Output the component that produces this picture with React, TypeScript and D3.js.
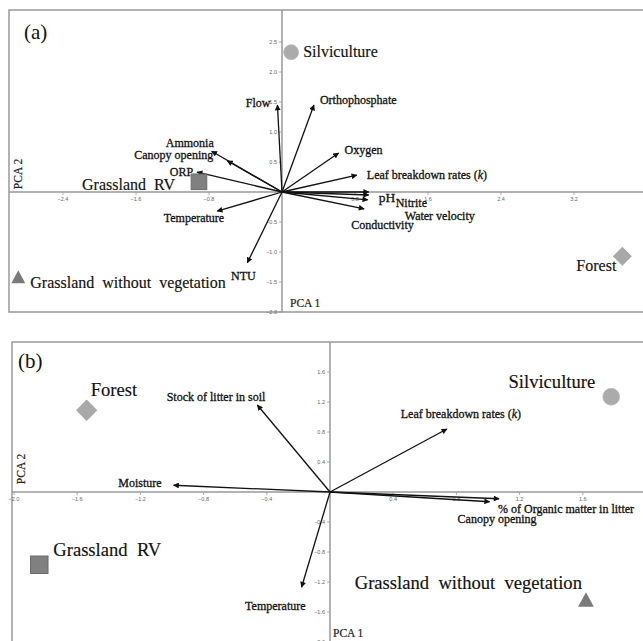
import React from 'react';
import * as d3 from 'd3';

// ---- panel (a) data ----
const groupsA = ['Silviculture', 'Grassland RV', 'Grassland without vegetation', 'Forest'];
const groupXA = [0.1, -0.91, -2.89, 3.73];
const groupYA = [2.33, 0.17, -1.42, -1.07];

const varsA = ['Flow', 'Orthophosphate', 'Oxygen', 'Leaf breakdown rates', 'pH', 'Nitrite', 'Water velocity', 'Conductivity', 'Ammonia', 'Canopy opening', 'ORP', 'Temperature', 'NTU'];
const varXA = [-0.05, 0.35, 0.62, 0.82, 0.95, 0.95, 0.94, 0.9, -0.77, -0.6, -0.93, -0.71, -0.38];
const varYA = [1.45, 1.45, 0.65, 0.28, 0.0, -0.05, -0.13, -0.28, 0.68, 0.52, 0.33, -0.32, -1.18];

const xTicksA = [-2.4, -1.6, -0.8, 0.8, 1.6, 2.4, 3.2, 4];
const yTicksA = [2.5, 2.0, 1.5, 1.0, 0.5, -0.5, -1.0, -1.5, -2.0];

// ---- panel (b) data ----
const groupsB = ['Forest', 'Silviculture', 'Grassland RV', 'Grassland without vegetation'];
const groupXB = [-1.54, 1.78, -1.84, 1.62];
const groupYB = [1.09, 1.27, -0.97, -1.44];

const varsB = ['Stock of litter in soil', 'Leaf breakdown rates', 'Moisture', 'Temperature', '% of Organic matter in litter', 'Canopy opening'];
const varXB = [-0.46, 0.74, -0.99, -0.18, 1.07, 1.01];
const varYB = [1.16, 0.84, 0.09, -1.27, -0.09, -0.13];

const xTicksB = [-2.0, -1.6, -1.2, -0.8, -0.4, 0.4, 0.8, 1.2, 1.6];
const yTicksB = [1.6, 1.2, 0.8, 0.4, -0.4, -0.8, -1.2, -1.6, -2.0];

// label layout (offsets from arrow tip / marker), kept apart from the data
const varLabA = [
  { dx: -7, dy: 2, a: 'end' }, { dx: 6, dy: -1, a: 'start' }, { dx: 6, dy: 1, a: 'start' },
  { dx: 10, dy: 4, a: 'start' }, { dx: 10, dy: 10, a: 'start' }, { dx: 27, dy: 12, a: 'start' },
  { dx: 37, dy: 20, a: 'start' }, { dx: -13, dy: 20, a: 'start' }, { dx: 2, dy: -4, a: 'end' },
  { dx: -14, dy: -2, a: 'end' }, { dx: -4, dy: 4, a: 'end' }, { dx: 7, dy: 11, a: 'end' },
  { dx: -4, dy: 17, a: 'middle' },
];
const groupLabA = [
  { dx: 12, dy: 5, a: 'start' }, { dx: -24, dy: 8, a: 'end' },
  { dx: 12, dy: 11, a: 'start' }, { dx: -6, dy: 15, a: 'end' },
];
const varLabB = [
  { dx: 8, dy: -4, a: 'end' }, { dx: 14, dy: -11, a: 'middle' }, { dx: -12, dy: 2, a: 'end' },
  { dx: 4, dy: 23, a: 'end' }, { dx: -1, dy: 14, a: 'start' }, { dx: -32, dy: 21, a: 'start' },
];
const groupLabB = [
  { dx: 4, dy: -14, a: 'start' }, { dx: -16, dy: -9, a: 'end' },
  { dx: 14, dy: -9, a: 'start' }, { dx: -4, dy: -11, a: 'end' },
];

const SERIF = '"Liberation Serif", "Times New Roman", serif';
const SANS = '"Liberation Sans", Arial, sans-serif';
const AXIS = '#999';

function Marker({ name, cx, cy, big }) {
  const s = big ? 1.12 : 1;
  if (name === 'Silviculture') {
    return <circle cx={cx} cy={cy} r={7.5 * s} fill="#ababab" stroke="#bbb" strokeWidth={0.8} />;
  }
  if (name === 'Forest') {
    const r = 9.5 * s;
    return <path d={`M${cx},${cy - r}L${cx + r},${cy}L${cx},${cy + r}L${cx - r},${cy}Z`} fill="#a9a9a9" />;
  }
  if (name === 'Grassland RV') {
    const h = 7.8 * s;
    return <rect x={cx - h} y={cy - h} width={2 * h} height={2 * h} fill="#808080" stroke="#6a6a6a" strokeWidth={1} />;
  }
  const t = 7 * s;
  return <path d={`M${cx},${cy - t}L${cx + t},${cy + t * 0.85}L${cx - t},${cy + t * 0.85}Z`} fill="#7a7a7a" />;
}

function VarLabel({ text, x, y, a }) {
  const common = { textAnchor: a, fontFamily: SERIF, fill: '#111', stroke: '#111', strokeWidth: 0.3 };
  if (text === 'Leaf breakdown rates') {
    return (
      <text x={x} y={y} {...common} fontSize={12}>
        Leaf breakdown rates (<tspan fontStyle="italic">k</tspan>)
      </text>
    );
  }
  return (
    <text x={x} y={y} {...common} fontSize={text === 'pH' ? 13.5 : 12}>
      {text}
    </text>
  );
}

function Panel({ id, x, y, frame, xTicks, yTicks, tickFmt, groups, gx, gy, gLab, vars, vx, vy, vLab, big, letter, letterPos, pca2Y, pca1Pos }) {
  const ox = x(0);
  const oy = y(0);
  return (
    <g>
      <defs>
        <marker id={`arr${id}`} viewBox="0 0 10 10" refX="9" refY="5" markerWidth="5" markerHeight="4.5" orient="auto" markerUnits="strokeWidth">
          <path d="M0,0L10,5L0,10Z" fill="#111" />
        </marker>
      </defs>
      {/* frame: left, top, bottom */}
      <path d={`M643,${frame.top}H${frame.left}V${frame.bottom}H643`} fill="none" stroke={AXIS} strokeWidth={1.5} />
      {/* axes */}
      <line x1={frame.left} x2={643} y1={oy} y2={oy} stroke={AXIS} strokeWidth={1.5} />
      <line x1={ox} x2={ox} y1={frame.top} y2={frame.bottom} stroke={AXIS} strokeWidth={1.5} />
      {xTicks.map(t => (
        <g key={`xt${t}`}>
          <line x1={x(t)} x2={x(t)} y1={oy} y2={oy + 3} stroke={AXIS} strokeWidth={0.8} />
          <text x={x(t)} y={oy + 9} textAnchor="middle" fontFamily={SANS} fontSize={5.5} fill="#666">{tickFmt(t)}</text>
        </g>
      ))}
      {yTicks.map(t => (
        <g key={`yt${t}`}>
          <line x1={ox - 3} x2={ox} y1={y(t)} y2={y(t)} stroke={AXIS} strokeWidth={0.8} />
          <text x={ox - 5} y={y(t) + 2} textAnchor="end" fontFamily={SANS} fontSize={5.5} fill="#666">{tickFmt(t)}</text>
        </g>
      ))}
      {/* axis titles */}
      <text transform={`translate(${frame.left + 13},${pca2Y}) rotate(-90)`} textAnchor="middle" fontFamily={SERIF} fontSize={11.5} fill="#222" stroke="#222" strokeWidth={0.2}>PCA 2</text>
      <text x={pca1Pos[0]} y={pca1Pos[1]} fontFamily={SERIF} fontSize={11.5} fill="#222" stroke="#222" strokeWidth={0.2}>PCA 1</text>
      <text x={letterPos[0]} y={letterPos[1]} fontFamily={SERIF} fontSize={21} fill="#111">{letter}</text>
      {/* loading vectors */}
      {vars.map((v, i) => (
        <line key={`v${v}`} x1={ox} y1={oy} x2={x(vx[i])} y2={y(vy[i])} stroke="#111" strokeWidth={1.3} markerEnd={`url(#arr${id})`} />
      ))}
      {vars.map((v, i) => (
        <VarLabel key={`vl${v}`} text={v} x={x(vx[i]) + vLab[i].dx} y={y(vy[i]) + vLab[i].dy} a={vLab[i].a} />
      ))}
      {/* group centroids */}
      {groups.map((g, i) => (
        <g key={`g${g}`}>
          <Marker name={g} cx={x(gx[i])} cy={y(gy[i])} big={big} />
          <text x={x(gx[i]) + gLab[i].dx} y={y(gy[i]) + gLab[i].dy} textAnchor={gLab[i].a} fontFamily={SERIF} fontSize={big ? 18.6 : 16} fill="#111" stroke="#111" strokeWidth={0.15} style={{ whiteSpace: 'pre' }}>
            {g.replace(' RV', '  RV').replace(' without ', '  without  ')}
          </text>
        </g>
      ))}
    </g>
  );
}

export default function App() {
  const xA = d3.scaleLinear().domain([0, 3.2]).range([282, 574]);
  const yA = d3.scaleLinear().domain([-2, 0]).range([312, 192]);
  const xB = d3.scaleLinear().domain([-2, 0]).range([14, 330]);
  const yB = d3.scaleLinear().domain([-2, 0]).range([642, 492]);
  const fmtA = (t: number) => (Number.isInteger(t) && Math.abs(t) >= 3 ? String(t) : d3.format('.1f')(t));
  const fmtB = (t: number) => d3.format('.1f')(t);

  return (
    <svg width={643} height={641} style={{ position: 'absolute', left: 0, top: 0, background: '#fff' }}>
      <rect width={643} height={641} fill="#fff" />
      <Panel
        id="a" x={xA} y={yA} frame={{ left: 9, top: 10, bottom: 312 }}
        xTicks={xTicksA} yTicks={yTicksA} tickFmt={fmtA}
        groups={groupsA} gx={groupXA} gy={groupYA} gLab={groupLabA}
        vars={varsA} vx={varXA} vy={varYA} vLab={varLabA}
        big={false} letter="(a)" letterPos={[24, 39]} pca2Y={174} pca1Pos={[290, 307]}
      />
      <Panel
        id="b" x={xB} y={yB} frame={{ left: 12, top: 342, bottom: 645 }}
        xTicks={xTicksB} yTicks={yTicksB} tickFmt={fmtB}
        groups={groupsB} gx={groupXB} gy={groupYB} gLab={groupLabB}
        vars={varsB} vx={varXB} vy={varYB} vLab={varLabB}
        big={true} letter="(b)" letterPos={[18, 368]} pca2Y={469} pca1Pos={[333, 637]}
      />
    </svg>
  );
}
